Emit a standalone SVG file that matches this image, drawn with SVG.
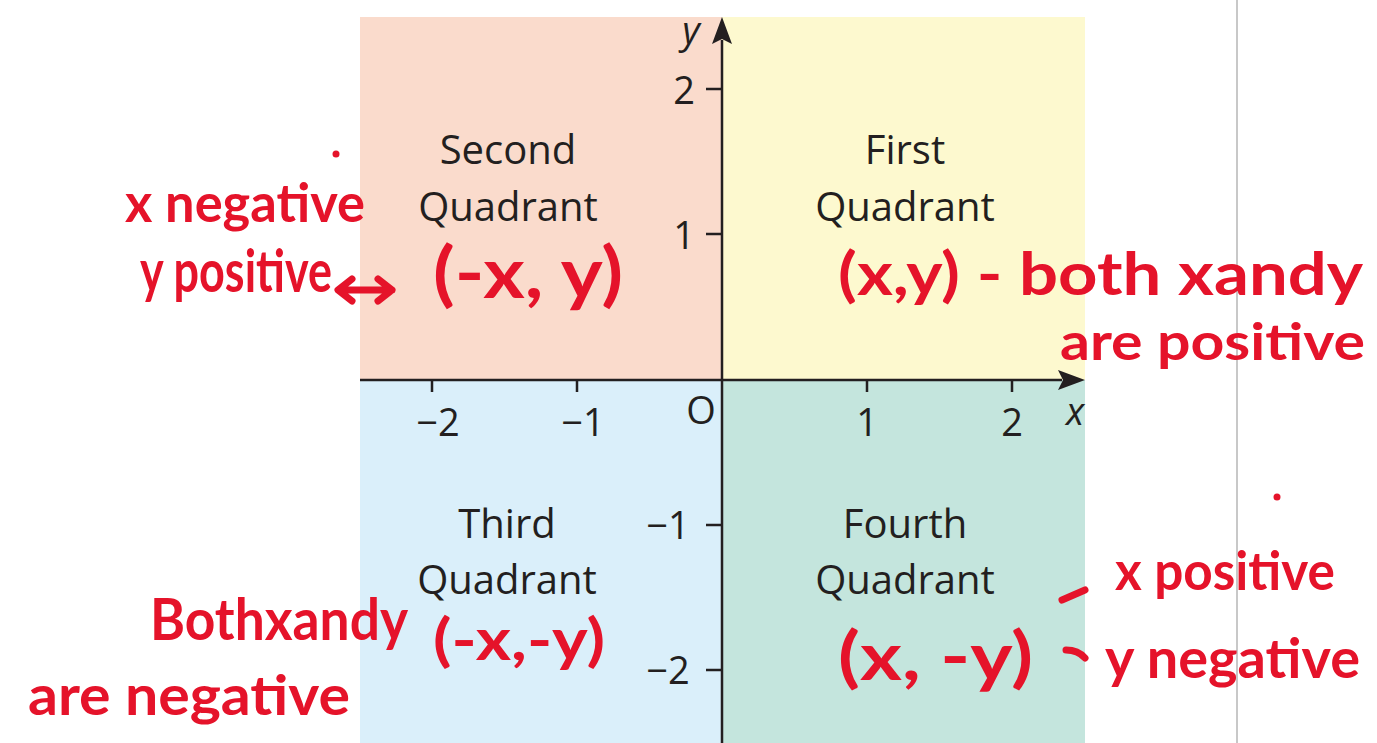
<svg xmlns="http://www.w3.org/2000/svg" width="1377" height="743" viewBox="0 0 1377 743">
<style>
.lbl{font-family:"Open Sans","Liberation Sans",sans-serif;font-size:40px;fill:#231f20;text-anchor:middle}
.num{font-family:"Open Sans","Liberation Sans",sans-serif;font-size:38px;fill:#231f20;text-anchor:middle}
.ax{stroke:#231f20;stroke-width:2.5;fill:none}
.hw{font-family:"Lato","Noto Sans",sans-serif;font-weight:bold;fill:#e5132a}
.hs{stroke:#e5132a;stroke-width:7;stroke-linecap:round;stroke-linejoin:round;fill:none}
</style>
<rect width="1377" height="743" fill="#ffffff"/>
<line x1="1237" y1="0" x2="1237" y2="743" stroke="#c8c8c8" stroke-width="2"/>
<g id="q2"><rect x="360" y="17" width="362" height="363" fill="#fadbcc"/>
<text class="lbl" x="508" y="164">Second</text><text class="lbl" x="508" y="221">Quadrant</text></g>
<g id="q1"><rect x="722" y="17" width="363" height="363" fill="#fdf9cf"/>
<text class="lbl" x="905" y="164">First</text><text class="lbl" x="905" y="221">Quadrant</text></g>
<g id="q3"><rect x="360" y="380" width="362" height="363" fill="#daeffa"/>
<text class="lbl" x="507" y="538">Third</text><text class="lbl" x="507" y="594">Quadrant</text></g>
<g id="q4"><rect x="722" y="380" width="363" height="363" fill="#c4e5dd"/>
<text class="lbl" x="905" y="538">Fourth</text><text class="lbl" x="905" y="594">Quadrant</text></g>
<g id="axes">
<line class="ax" x1="360" y1="380" x2="1062" y2="380"/>
<polygon points="1085,380 1058,370 1063,380 1058,390" fill="#231f20"/>
<line class="ax" x1="722" y1="743" x2="722" y2="40"/>
<polygon points="722,17 712,44 722,39 732,44" fill="#231f20"/>
<path class="ax" d="M432 380v12M577 380v12M867 380v12M1012 380v12M706 89h16M706 234h16M706 525h16M706 670h16"/>
<text class="num" x="438" y="436">−2</text>
<text class="num" x="583" y="436">−1</text>
<text class="num" x="867" y="436">1</text>
<text class="num" x="1012" y="436">2</text>
<text class="num" x="701" y="424">O</text>
<text class="num" x="684" y="104">2</text>
<text class="num" x="684" y="249">1</text>
<text class="num" x="668" y="539">−1</text>
<text class="num" x="668" y="684">−2</text>
<text class="num" x="1075" y="425" font-style="italic">x</text>
<text class="num" x="691" y="44" font-style="italic">y</text>
</g>
<g id="notes">
<text class="hw" x="125" y="222" font-size="54" textLength="240" lengthAdjust="spacingAndGlyphs">x negative</text>
<circle cx="336" cy="154" r="3.5" fill="#e5132a"/>
<text class="hw" x="140" y="292" font-size="60" textLength="192" lengthAdjust="spacingAndGlyphs">y positive</text>
<path class="hs" d="M392 290H340M352 279L338 290L352 301M378 279L392 290L378 301"/>
<text class="hw" x="433" y="298" font-size="70" textLength="190" lengthAdjust="spacingAndGlyphs">(-x, y)</text>
<text class="hw" x="838" y="295" font-size="60" textLength="525" lengthAdjust="spacingAndGlyphs">(x,y) - both xandy</text>
<text class="hw" x="1060" y="360" font-size="52" textLength="305" lengthAdjust="spacingAndGlyphs">are positive</text>
<text class="hw" x="150" y="640" font-size="58" textLength="258" lengthAdjust="spacingAndGlyphs">Bothxandy</text>
<text class="hw" x="28" y="715" font-size="56" textLength="322" lengthAdjust="spacingAndGlyphs">are  negative</text>
<text class="hw" x="433" y="660" font-size="58" textLength="172" lengthAdjust="spacingAndGlyphs">(-x,-y)</text>
<text class="hw" x="838" y="680" font-size="66" textLength="195" lengthAdjust="spacingAndGlyphs">(x, -y)</text>
<path class="hs" d="M1062 600L1085 590M1066 650Q1078 650 1085 658"/>
<text class="hw" x="1115" y="590" font-size="54" textLength="220" lengthAdjust="spacingAndGlyphs">x positive</text>
<circle cx="1277" cy="497" r="3.5" fill="#e5132a"/>
<text class="hw" x="1105" y="678" font-size="56" textLength="255" lengthAdjust="spacingAndGlyphs">y negative</text>
</g>
</svg>
